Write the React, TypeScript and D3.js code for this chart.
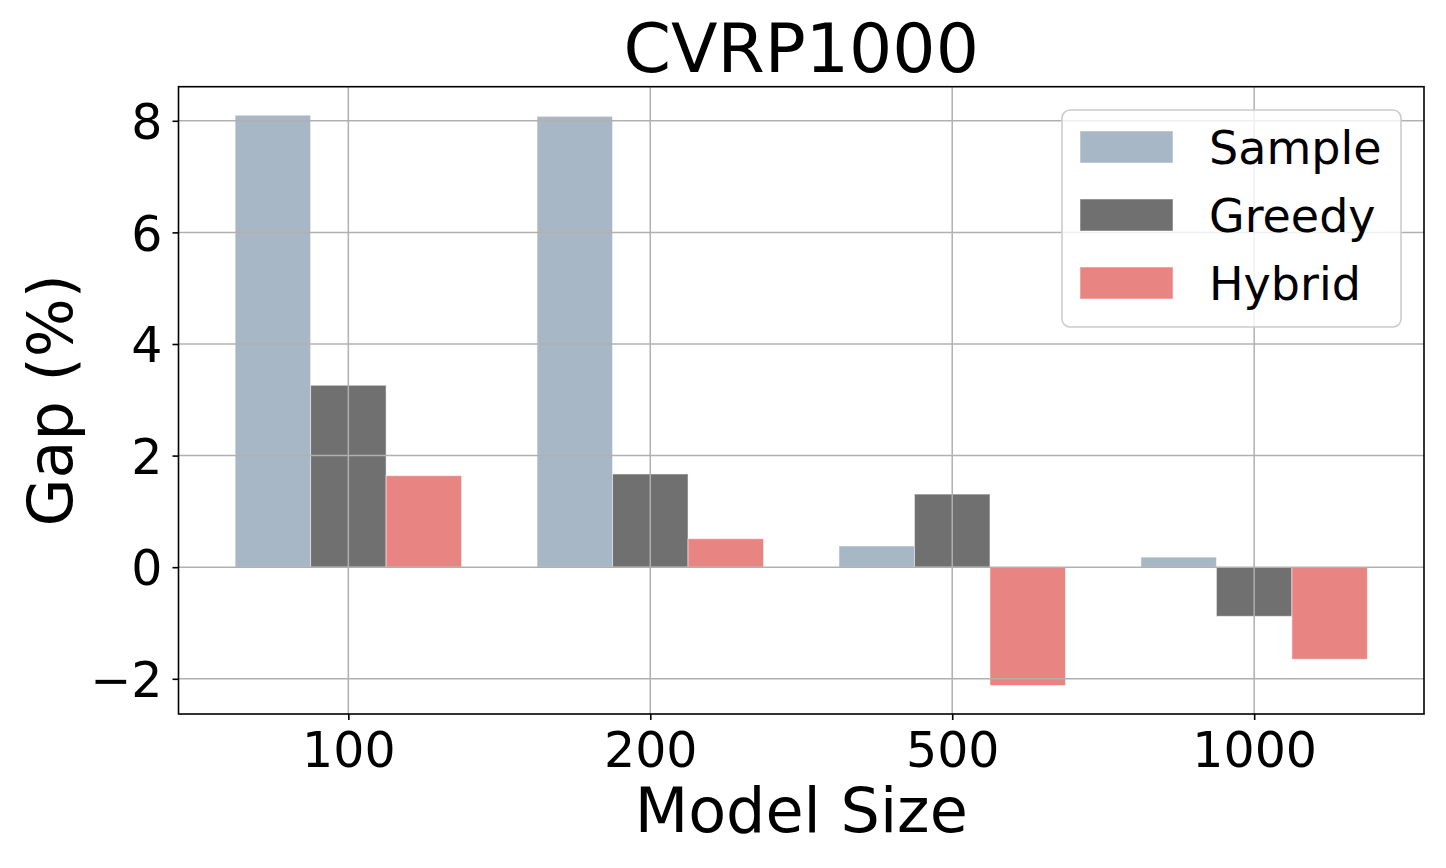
import { useEffect, useRef } from 'react'
import * as d3 from 'd3'

const modelSizes = ['100', '200', '500', '1000']
const seriesNames = ['Sample', 'Greedy', 'Hybrid']
const sampleGap = [8.10, 8.08, 0.38, 0.18]
const greedyGap = [3.26, 1.67, 1.31, -0.88]
const hybridGap = [1.64, 0.51, -2.12, -1.65]
const seriesColors = ['#a8b7c6', '#707070', '#e88482']
const yTicks = [-2, 0, 2, 4, 6, 8]

const W = 1446
const H = 868
const FONT = '"DejaVu Sans", sans-serif'

export default function App() {
  const svgRef = useRef<SVGSVGElement>(null)

  useEffect(() => {
    if (!svgRef.current) return
    const svg = d3.select(svgRef.current)
    svg.selectAll('*').remove()

    const m = { top: 86.7, right: W - 1424, bottom: H - 714, left: 178.5 }
    const iW = W - m.left - m.right
    const iH = H - m.top - m.bottom
    const g = svg.append('g').attr('transform', `translate(${m.left},${m.top})`)

    const series = [sampleGap, greedyGap, hybridGap]
    const barW = 0.25
    const offsets = [-barW, 0, barW]

    // matplotlib-style 5% margins around the bar extents
    const xLo = -barW * 1.5, xHi = modelSizes.length - 1 + barW * 1.5
    const xPad = (xHi - xLo) * 0.05
    const xScale = d3.scaleLinear().domain([xLo - xPad, xHi + xPad]).range([0, iW])
    const all = series.flat()
    const yLo = Math.min(0, d3.min(all)!), yHi = Math.max(0, d3.max(all)!)
    const yPad = (yHi - yLo) * 0.05
    const yScale = d3.scaleLinear().domain([yLo - yPad, yHi + yPad]).range([iH, 0])

    // bars
    series.forEach((vals, si) => {
      g.append('g').selectAll('rect').data(vals).enter().append('rect')
        .attr('x', (_, i) => xScale(i + offsets[si] - barW / 2))
        .attr('width', xScale(barW) - xScale(0))
        .attr('y', d => yScale(Math.max(0, d)))
        .attr('height', d => Math.abs(yScale(d) - yScale(0)))
        .attr('fill', seriesColors[si])
        .attr('stroke', '#ffffff').attr('stroke-opacity', 0.5).attr('stroke-width', 1)
    })

    // grid (drawn above bars)
    g.append('g').selectAll('line').data(yTicks).enter().append('line')
      .attr('x1', 0).attr('x2', iW).attr('y1', d => yScale(d)).attr('y2', d => yScale(d))
      .attr('stroke', '#b0b0b0').attr('stroke-width', 1.5)
    g.append('g').selectAll('line').data(modelSizes.map((_, i) => i)).enter().append('line')
      .attr('y1', 0).attr('y2', iH).attr('x1', d => xScale(d)).attr('x2', d => xScale(d))
      .attr('stroke', '#b0b0b0').attr('stroke-width', 1.5)

    // axes
    const styleAxis = (ax: d3.Selection<SVGGElement, unknown, null, undefined>) => {
      ax.select('.domain').remove()
      ax.selectAll('.tick line').attr('stroke', '#000').attr('stroke-width', 1.6)
      ax.selectAll('.tick text').attr('fill', '#000').attr('font-size', '49px').attr('font-family', FONT)
    }
    g.append('g').attr('transform', `translate(0,${iH})`)
      .call(d3.axisBottom(xScale).tickValues(modelSizes.map((_, i) => i)).tickSize(6).tickPadding(12)
        .tickFormat(d => modelSizes[d as number]))
      .call(styleAxis)
    g.append('g')
      .call(d3.axisLeft(yScale).tickValues(yTicks).tickSize(6).tickPadding(10)
        .tickFormat(d => (d as number) < 0 ? `\u2212${Math.abs(d as number)}` : `${d}`))
      .call(styleAxis)
      .call(ax => ax.selectAll('.tick text').attr('dy', '0.36em'))

    // frame
    g.append('rect').attr('width', iW).attr('height', iH)
      .attr('fill', 'none').attr('stroke', '#000').attr('stroke-width', 1.6)

    // labels
    svg.append('text').attr('x', m.left + iW / 2).attr('y', 71.7).attr('text-anchor', 'middle')
      .attr('font-family', FONT).attr('font-size', '68px').text('CVRP1000')
    svg.append('text').attr('x', m.left + iW / 2).attr('y', 831.7).attr('text-anchor', 'middle')
      .attr('font-family', FONT).attr('font-size', '62px').text('Model Size')
    svg.append('text').attr('transform', `translate(72,${m.top + iH / 2}) rotate(-90)`).attr('text-anchor', 'middle')
      .attr('font-family', FONT).attr('font-size', '62px').text('Gap (%)')

    // legend
    const lg = svg.append('g').attr('transform', 'translate(1062,110)')
    lg.append('rect').attr('width', 339).attr('height', 217).attr('rx', 8)
      .attr('fill', '#ffffff').attr('fill-opacity', 0.8).attr('stroke', '#cccccc').attr('stroke-width', 1.6)
    seriesNames.forEach((name, i) => {
      const cy = 37 + i * 68
      lg.append('rect').attr('x', 18).attr('y', cy - 16).attr('width', 93).attr('height', 32)
        .attr('fill', seriesColors[i]).attr('stroke', '#ffffff').attr('stroke-opacity', 0.5).attr('stroke-width', 1)
      lg.append('text').attr('x', 147).attr('y', cy + 17)
        .attr('font-family', FONT).attr('font-size', '46px').text(name)
    })
  }, [])

  return (
    <div style={{ position: 'absolute', left: 0, top: 0, background: '#fff' }}>
      <svg ref={svgRef} width={W} height={H} style={{ display: 'block' }} />
    </div>
  )
}
